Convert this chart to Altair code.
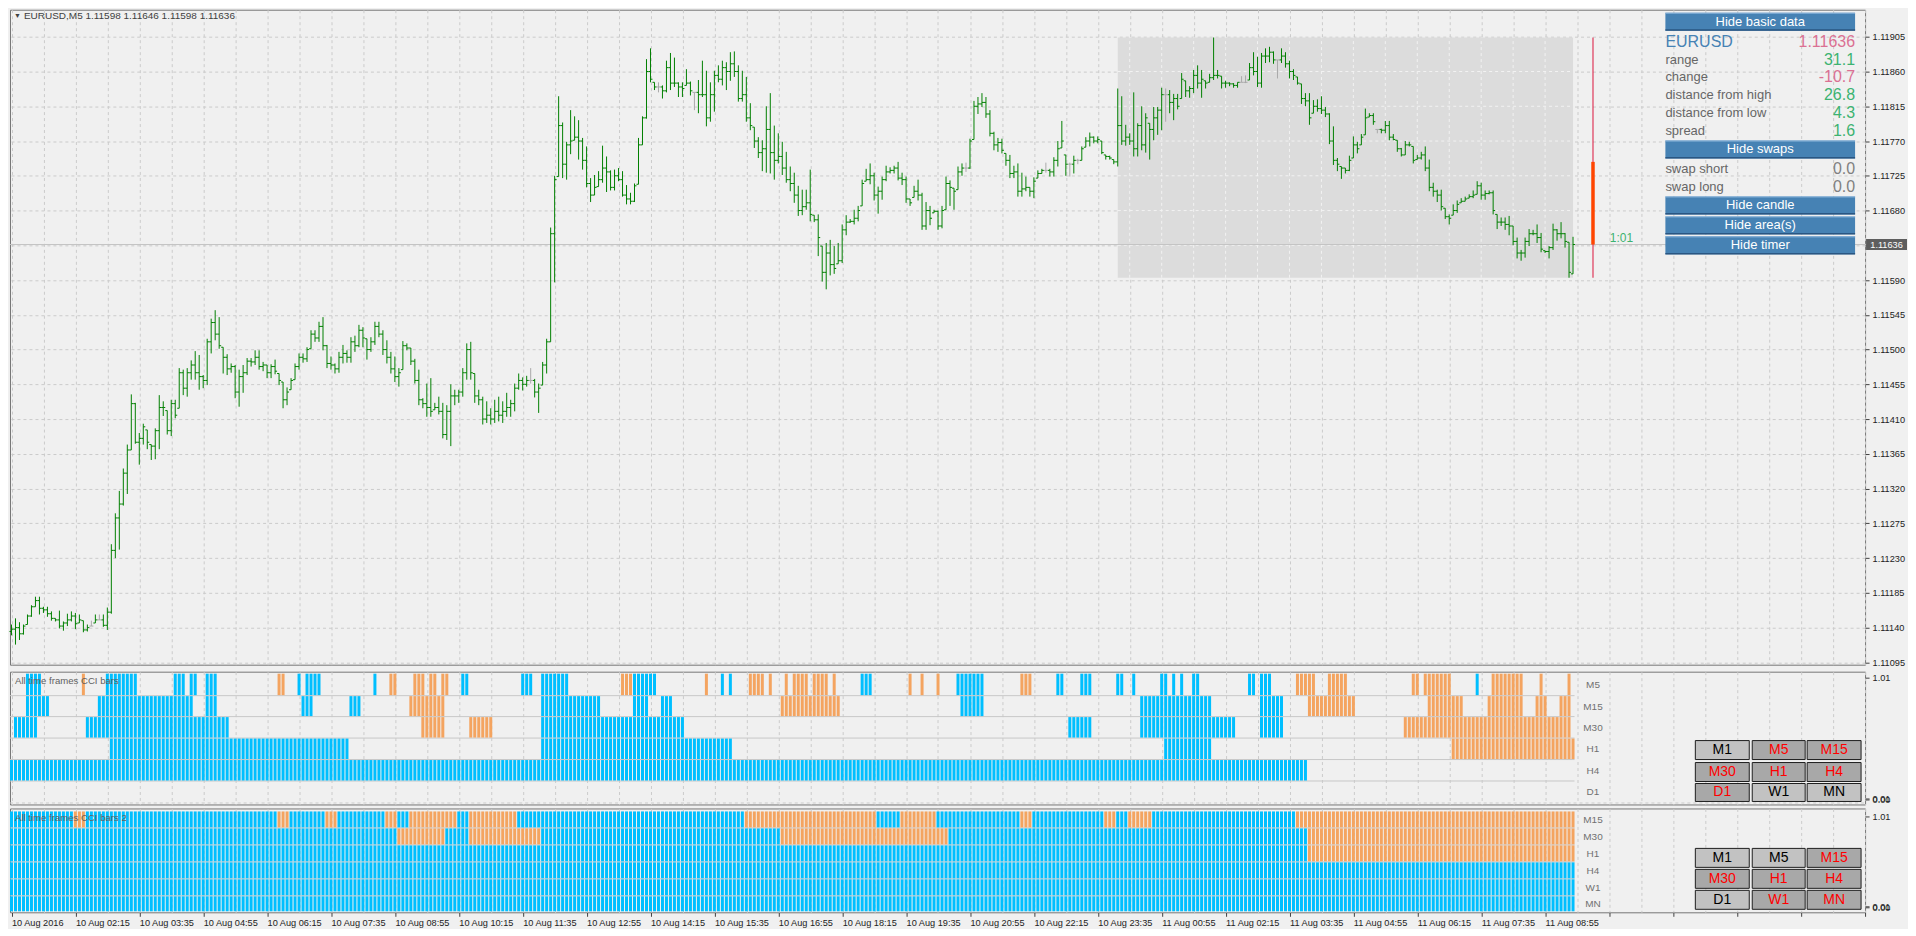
import json
import altair as alt
import pandas as pd

# ---------------- data (prices in points above 1.11000) ----------------
OPEN = [135,138,140,132,144,155,167,175,165,163,
158,152,150,142,146,150,155,146,149,137,
142,146,150,150,143,160,240,282,300,340,
370,430,380,385,396,377,375,395,425,421,
395,430,424,470,450,470,480,470,465,460,
510,535,520,503,490,475,478,445,465,470,
485,484,490,478,480,470,478,469,458,435,
448,461,478,490,488,501,520,515,530,505,
482,480,475,490,495,490,510,505,525,514,
500,510,530,520,500,490,475,465,474,505,
502,485,460,435,430,425,422,425,420,390,
420,440,440,445,470,500,469,440,435,410,
415,410,420,415,420,425,430,450,460,455,
460,460,445,454,480,510,650,724,790,740,
765,771,775,770,745,715,700,711,720,735,
730,710,725,720,700,695,692,714,765,800,
860,846,840,840,835,865,845,845,840,842,
845,833,833,830,830,800,830,855,850,865,
860,870,860,825,830,800,788,770,755,760,
785,755,745,750,735,720,715,700,680,685,
690,674,668,634,600,625,610,611,615,655,
665,666,670,686,718,720,725,700,705,720,
730,732,735,722,720,695,697,705,700,660,
680,677,679,660,681,715,709,707,730,735,
735,772,815,818,820,805,780,765,768,754,
745,728,730,705,708,710,705,722,728,732,
732,730,745,761,752,740,740,745,745,762,
770,775,770,770,752,750,746,743,790,770,
775,770,760,790,765,793,785,800,810,830,
830,820,825,825,848,835,838,855,845,848,
846,852,855,854,845,845,844,842,846,846,
849,865,860,845,880,880,885,875,875,880,
870,860,853,844,825,822,806,815,812,810,
805,770,745,737,735,732,748,765,765,778,
801,803,785,785,784,790,775,771,760,752,
765,763,746,748,752,735,710,705,700,683,
672,674,680,690,692,696,698,701,712,700,
702,703,675,665,665,662,660,640,625,625,
640,650,650,645,628,627,632,655,650,650,
639,598]

HIGH = [144,152,147,144,157,169,180,180,167,167,
161,152,162,148,158,161,159,157,149,144,
149,157,157,157,166,248,288,317,346,377,
442,431,392,404,396,377,398,441,433,421,
435,435,476,474,476,486,498,493,467,514,
540,551,542,503,494,482,480,474,480,489,
489,499,499,484,480,481,487,469,458,451,
463,482,495,495,503,525,525,536,542,506,
491,482,497,506,499,516,518,532,529,514,
516,536,536,525,512,497,491,476,511,508,
502,488,474,437,456,463,431,439,431,428,
455,448,448,476,508,510,469,448,439,433,
424,435,439,433,444,435,456,469,464,466,
476,462,456,484,514,658,725,828,794,769,
810,802,797,774,763,722,726,731,764,750,
732,733,735,731,713,703,715,774,802,876,
890,846,846,842,874,884,878,846,846,863,
847,833,849,874,861,846,861,868,874,872,
885,886,868,861,853,819,788,775,771,815,
832,790,780,769,756,737,729,712,707,707,
733,674,675,634,638,642,634,638,662,674,
669,681,686,720,734,741,729,711,724,738,
736,738,743,729,724,695,712,720,703,691,
686,681,680,686,724,719,709,737,741,742,
773,822,827,832,827,810,782,774,773,754,
752,738,741,729,724,710,723,732,734,742,
734,749,770,796,752,742,751,747,763,775,
781,776,776,770,752,751,746,838,828,791,
780,833,793,815,806,793,814,814,839,838,
836,831,831,858,848,841,862,868,862,848,
857,904,862,854,848,846,845,846,854,855,
871,885,879,884,890,892,886,875,890,885,
874,863,853,844,832,832,823,824,828,814,
806,789,748,737,735,751,776,769,779,812,
806,806,785,786,796,796,779,771,761,770,
769,763,752,756,763,746,716,707,707,683,
675,688,693,696,698,701,706,718,716,706,
706,706,675,671,671,673,660,645,629,645,
656,655,662,651,628,634,663,656,665,651,
639,646]

LOW = [130,118,124,131,144,154,167,157,159,154,
149,148,139,136,142,148,138,146,134,135,
142,146,150,141,137,158,230,241,298,313,
370,378,351,377,371,357,358,371,414,390,
388,411,424,441,439,461,461,448,450,454,
495,512,501,469,467,470,437,426,444,467,
478,480,474,472,463,463,468,454,424,428,
448,461,474,483,484,501,510,510,499,476,
474,469,470,482,483,483,497,503,503,487,
497,506,516,493,482,469,458,452,474,499,
480,456,428,424,413,413,422,416,385,383,
375,428,431,439,461,461,431,428,403,405,
403,405,407,405,413,413,420,448,447,452,
456,438,418,454,469,510,587,724,722,720,
753,771,746,733,710,691,700,711,716,704,
706,706,718,698,688,688,691,714,765,799,
846,836,833,825,833,836,840,827,827,842,
829,810,806,827,789,795,808,846,842,836,
848,853,821,821,795,784,761,748,731,729,
728,720,741,726,716,705,690,673,674,681,
666,665,621,588,578,596,598,611,612,648,
664,662,666,686,718,714,693,676,694,718,
728,728,719,713,690,686,697,693,655,655,
661,677,655,657,681,686,681,707,725,730,
734,772,805,814,800,776,758,756,754,738,
722,722,698,698,705,698,696,722,728,729,
724,724,737,761,725,724,728,740,745,762,
763,767,767,753,746,746,740,737,765,764,
765,750,750,758,755,746,771,778,784,795,
806,797,811,825,827,826,832,838,826,838,
846,849,851,838,839,841,839,839,846,845,
849,855,840,839,871,872,870,851,871,865,
851,849,843,818,815,791,806,808,805,801,
766,739,731,721,728,731,748,754,765,778,
801,791,780,780,780,771,771,756,750,752,
763,741,746,746,731,705,698,691,680,669,
662,674,677,690,692,696,696,701,694,694,
701,675,656,660,655,648,635,618,615,619,
634,648,638,626,625,618,629,641,644,632,
593,598]

CLOSE = [138,140,132,142,155,167,175,165,163,158,
152,150,142,146,150,155,145,150,137,140,
142,150,150,143,160,240,282,300,340,370,
430,380,385,400,380,375,395,425,425,395,
430,415,470,450,470,480,470,465,460,510,
535,520,505,490,475,478,445,465,470,485,
484,490,478,480,470,478,472,460,435,445,
460,478,490,488,500,520,515,530,505,482,
480,475,490,495,490,510,505,525,515,500,
510,530,520,500,490,475,465,470,505,502,
485,460,435,430,425,420,425,420,390,420,
440,440,445,470,500,470,440,435,410,415,
410,420,415,420,425,430,450,460,455,460,
460,445,450,480,510,650,720,790,740,765,
770,775,770,745,715,700,710,720,735,730,
710,725,720,700,695,692,712,765,800,860,
850,840,840,835,865,845,845,840,838,845,
835,833,830,830,800,830,855,850,865,860,
870,860,825,830,800,790,770,755,760,785,
755,745,750,735,720,715,700,680,685,690,
675,668,645,600,625,610,605,615,655,665,
666,670,680,715,720,725,700,705,720,730,
732,735,722,720,695,690,705,700,660,680,
670,679,660,680,715,710,705,730,735,735,
770,815,818,820,805,780,765,768,758,745,
728,730,705,708,710,705,718,728,732,732,
730,745,760,770,740,740,745,745,760,770,
775,770,772,755,750,748,743,790,770,775,
770,760,790,765,800,785,800,810,830,830,
820,825,815,850,835,838,855,845,850,845,
852,855,855,845,845,844,842,846,846,846,
865,860,845,880,880,885,875,875,880,870,
860,855,845,825,822,800,815,812,810,805,
770,745,740,735,732,745,765,760,775,800,
803,795,785,784,790,775,772,760,752,765,
765,745,748,752,735,710,705,700,685,672,
670,680,688,692,695,698,700,712,700,702,
703,680,665,665,662,660,640,625,625,640,
650,650,645,630,627,632,655,650,650,640,
600,636]

DOJI_BARS = [20, 22, 130, 162, 171, 239, 259, 265, 267, 289, 308, 309, 317, 342]

TIME_LABELS = ["10 Aug 2016", "10 Aug 02:15", "10 Aug 03:35", "10 Aug 04:55", "10 Aug 06:15",
               "10 Aug 07:35", "10 Aug 08:55", "10 Aug 10:15", "10 Aug 11:35", "10 Aug 12:55",
               "10 Aug 14:15", "10 Aug 15:35", "10 Aug 16:55", "10 Aug 18:15", "10 Aug 19:35",
               "10 Aug 20:55", "10 Aug 22:15", "10 Aug 23:35", "11 Aug 00:55", "11 Aug 02:15",
               "11 Aug 03:35", "11 Aug 04:55", "11 Aug 06:15", "11 Aug 07:35", "11 Aug 08:55"]
BARS_PER_LABEL = 16

PRICE_TICKS = [95, 140, 185, 230, 275, 320, 365, 410, 455, 500, 545, 590, 635, 680, 725, 770, 815, 860, 905]

DAY_FIRST_BAR = 277
CANDLE_BAR = 396
TIMER_TEXT = "1:01"
SPREAD = 1.6
SWAP_SHORT = 0.0
SWAP_LONG = 0.0

P1_ROWS = ["M5", "M15", "M30", "H1", "H4", "D1"]
P1_SEGMENTS = {
    "M5": [(4,7,"b"),(18,18,"o"),(24,31,"b"),(41,43,"b"),(45,46,"b"),(49,51,"b"),(67,68,"o"),(72,72,"b"),
           (74,77,"b"),(91,91,"b"),(95,96,"o"),(101,103,"o"),(105,106,"o"),(108,109,"o"),(113,114,"b"),
           (128,130,"b"),(133,139,"b"),(153,155,"o"),(156,161,"b"),(174,174,"o"),(178,178,"b"),(180,180,"b"),
           (185,188,"o"),(190,190,"o"),(194,194,"o"),(196,199,"o"),(201,204,"o"),(206,206,"o"),(213,215,"b"),
           (225,225,"o"),(228,228,"o"),(232,232,"o"),(237,243,"b"),(253,255,"o"),(262,263,"b"),(268,270,"b"),
           (277,278,"b"),(281,281,"b"),(288,289,"b"),(291,291,"b"),(293,293,"b"),(296,297,"b"),(310,311,"b"),
           (313,315,"b"),(322,326,"o"),(330,334,"o"),(351,352,"o"),(354,360,"o"),(367,367,"b"),(371,378,"o"),
           (383,383,"o"),(390,390,"o")],
    "M15": [(4,9,"b"),(22,45,"b"),(49,51,"b"),(73,75,"b"),(85,87,"b"),(100,108,"o"),(133,147,"b"),(156,159,"b"),
            (163,165,"b"),(193,207,"o"),(238,243,"b"),(283,300,"b"),(313,318,"b"),(325,336,"o"),(355,363,"o"),
            (370,378,"o"),(382,384,"o"),(388,390,"o")],
    "M30": [(1,6,"b"),(19,54,"b"),(103,108,"o"),(115,120,"o"),(133,168,"b"),(265,270,"b"),(283,306,"b"),
            (313,318,"b"),(349,390,"o")],
    "H1": [(25,84,"b"),(133,180,"b"),(289,300,"b"),(361,391,"o")],
    "H4": [(0,324,"b")],
    "D1": [],
}
P2_ROWS = ["M15", "M30", "H1", "H4", "W1", "MN"]
P2_SEGMENTS = {
    "M15": [(0,15,"b"),(16,18,"o"),(19,66,"b"),(67,69,"o"),(70,78,"b"),(79,81,"o"),(82,93,"b"),(94,96,"o"),
            (97,99,"b"),(100,111,"o"),(112,114,"b"),(115,126,"o"),(127,183,"b"),(184,216,"o"),(217,222,"b"),
            (223,231,"o"),(232,252,"b"),(253,255,"o"),(256,273,"b"),(274,276,"o"),(277,279,"b"),(280,285,"o"),
            (286,321,"b"),(322,391,"o")],
    "M30": [(0,96,"b"),(97,108,"o"),(109,114,"b"),(115,132,"o"),(133,192,"b"),(193,234,"o"),(235,324,"b"),
            (325,391,"o")],
    "H1": [(0,324,"b"),(325,391,"o")],
    "H4": [(0,391,"b")],
    "W1": [(0,391,"b")],
    "MN": [(0,391,"b")],
}
TF_BUTTONS = [["M1", "M5", "M15"], ["M30", "H1", "H4"], ["D1", "W1", "MN"]]
P1_ACTIVE = [[0, 1, 1], [1, 1, 1], [1, 0, 0]]
P2_ACTIVE = [[0, 0, 1], [1, 1, 1], [0, 1, 1]]

# ---------------- layout & style ----------------
W = 1858
KPX = 4.0
X0 = -0.375
X1 = X0 + W / KPX
H_MAIN, H_P1, H_P2 = 656, 133, 104
Y_LO, Y_HI = 92.0, 940.0
PPP = H_MAIN / (Y_HI - Y_LO)

FONT = "Liberation Sans"
BG = "#f0f0f0"
GRID = "#cbcbcb"
BAR_GREEN = "#008000"
DOJI_GRAY = "#a9a9a9"
BLUE = "#00bfff"
ORANGE = "#f4a460"
STEEL = "#4682b4"
PINK = "#db7093"
SEA = "#3cb371"
CCI_COL = {"b": BLUE, "o": ORANGE}


def px_x(px):
    return X0 + px / KPX


def px_main(py):
    return Y_HI - py / PPP


def fmt_price(p):
    return f"{1.11 + p / 100000:.5f}"


N = len(CLOSE)
LAST_BAR = N - 1
last = CLOSE[-1]
day_h = max(HIGH[DAY_FIRST_BAR:])
day_l = min(LOW[DAY_FIRST_BAR:])
day_o = OPEN[DAY_FIRST_BAR]

xs = alt.Scale(domain=[X0, X1], nice=False, zero=False)
ys_main = alt.Scale(domain=[Y_LO, Y_HI], nice=False, zero=False)
GRID_VALS = list(range(0, int(X1) + 1, 8))

ax_x_main = alt.Axis(values=GRID_VALS, grid=True, gridDash=[3, 3], gridColor=GRID, labels=False,
                     ticks=False, domain=False, title=None)
ax_y_main = alt.Axis(orient="right", values=PRICE_TICKS,
                     labelExpr="format(1.11 + datum.value / 100000, '.5f')",
                     grid=True, gridDash=[3, 3], gridColor=GRID, tickSize=4, tickColor="#404040",
                     domain=False, title=None, labelPadding=3, labelOverlap=False)


def X(f, axis=ax_x_main):
    return alt.X(f, type="quantitative", scale=xs, axis=axis)


def Ym(f):
    return alt.Y(f, type="quantitative", scale=ys_main, axis=ax_y_main)


# ---------------- main price panel ----------------
bars = pd.DataFrame({"k": list(range(N)), "o": OPEN, "h": HIGH, "l": LOW, "c": CLOSE})
bars["col"] = [DOJI_GRAY if k in DOJI_BARS else BAR_GREEN for k in bars["k"]]
bars["kl"] = bars["k"] - 0.5
bars["kr"] = bars["k"] + 0.5

day_df = pd.DataFrame({"x0": [DAY_FIRST_BAR], "x1": [LAST_BAR], "y0": [day_l], "y1": [day_h]})
day_rect = alt.Chart(day_df).mark_rect(color="#dcdcdc").encode(x=X("x0"), x2="x1", y=Ym("y0"), y2="y1")

vin = pd.DataFrame({"v": [g for g in GRID_VALS if DAY_FIRST_BAR < g < LAST_BAR]})
vin["y0"], vin["y1"] = day_l, day_h
in_v = alt.Chart(vin).mark_rule(color="#f2f2f2", strokeDash=[3, 3]).encode(x=X("v"), y=Ym("y0"), y2="y1")
hin = pd.DataFrame({"p": [t for t in PRICE_TICKS if day_l < t < day_h]})
hin["x0"], hin["x1"] = DAY_FIRST_BAR, LAST_BAR
in_h = alt.Chart(hin).mark_rule(color="#f2f2f2", strokeDash=[3, 3]).encode(x=X("x0"), x2="x1", y=Ym("p"))

pline = alt.Chart(pd.DataFrame({"p": [last], "x0": [X0], "x1": [X1]})).mark_rule(color="#c4c4c4").encode(
    x=X("x0"), x2="x1", y=Ym("p"))

colr = alt.Color("col:N", scale=None)
hl = alt.Chart(bars).mark_rule(strokeWidth=1).encode(x=X("k"), y=Ym("l"), y2="h", color=colr)
op = alt.Chart(bars).mark_rule(strokeWidth=1).encode(x=X("kl"), x2="k", y=Ym("o"), color=colr)
cl = alt.Chart(bars).mark_rule(strokeWidth=1).encode(x=X("k"), x2="kr", y=Ym("c"), color=colr)

cdf = pd.DataFrame({"k": [CANDLE_BAR], "o": [day_o], "h": [day_h], "l": [day_l], "c": [last]})
wick = alt.Chart(cdf).mark_rule(color="#dc143c", strokeWidth=1).encode(x=X("k"), y=Ym("l"), y2="h")
body = alt.Chart(cdf).mark_rule(color="#ff4500", strokeWidth=3.5).encode(x=X("k"), y=Ym("c"), y2="o")
timer = alt.Chart(pd.DataFrame({"k": [CANDLE_BAR + 4.2], "p": [last + 9], "t": [TIMER_TEXT]})).mark_text(
    font=FONT, fontSize=12, color=SEA, align="left", baseline="middle").encode(x=X("k"), y=Ym("p"), text="t:N")

hdr_txt = f"EURUSD,M5  {fmt_price(OPEN[-1])} {fmt_price(HIGH[-1])} {fmt_price(LOW[-1])} {fmt_price(CLOSE[-1])}"
hdr = alt.Chart(pd.DataFrame({"x": [px_x(14), px_x(4)], "y": [px_main(6), px_main(6)],
                              "t": [hdr_txt, "\u25bc"], "s": [10, 7]})).mark_text(
    font=FONT, color="#404040", align="left", baseline="middle").encode(
    x=X("x"), y=Ym("y"), text="t:N", size=alt.Size("s:Q", scale=None))

# info panel (anchored to the top-right corner)
PANEL_L, PANEL_R = W - 200, W - 10
DY = 10
BTN_PX = [("Hide basic data", 13, 31), ("Hide swaps", 141, 159), ("Hide candle", 197, 215),
          ("Hide area(s)", 217, 235), ("Hide timer", 237, 255)]
btn = pd.DataFrame([{"t": t, "x0": px_x(PANEL_L), "x1": px_x(PANEL_R), "cx": px_x((PANEL_L + PANEL_R) / 2),
                     "y0": px_main(b - DY), "y1": px_main(a - DY), "cy": px_main((a + b) / 2 - DY),
                     "yt": px_main(a - DY + 0.5), "yb": px_main(b - DY - 0.7)} for t, a, b in BTN_PX])
btn_rect = alt.Chart(btn).mark_rect(color=STEEL).encode(x=X("x0"), x2="x1", y=Ym("y0"), y2="y1")
btn_top = alt.Chart(btn).mark_rule(color="#8db6dc", strokeWidth=1).encode(x=X("x0"), x2="x1", y=Ym("yt"))
btn_bot = alt.Chart(btn).mark_rule(color="#2a5682", strokeWidth=1.5).encode(x=X("x0"), x2="x1", y=Ym("yb"))
btn_txt = alt.Chart(btn).mark_text(font=FONT, fontSize=13, color="white", baseline="middle").encode(
    x=X("cx"), y=Ym("cy"), text="t:N")


def signed_color(v):
    return SEA if v >= 0 else PINK


rng = (day_h - day_l) / 10
chg = (last - day_o) / 10
dh = (day_h - last) / 10
dl = (last - day_l) / 10
INFO = [("EURUSD", fmt_price(last), 42.7, STEEL, PINK, 16),
        ("range", f"{rng:.1f}", 60, "#666666", signed_color(rng), 13),
        ("change", f"{chg:.1f}", 77.7, "#666666", signed_color(chg), 13),
        ("distance from high", f"{dh:.1f}", 95.7, "#666666", signed_color(dh), 13),
        ("distance from low", f"{dl:.1f}", 113.3, "#666666", signed_color(dl), 13),
        ("spread", f"{SPREAD:.1f}", 131, "#666666", SEA, 13),
        ("swap short", f"{SWAP_SHORT:.1f}", 170, "#666666", "#808080", 13),
        ("swap long", f"{SWAP_LONG:.1f}", 187.7, "#666666", "#808080", 13)]
info = pd.DataFrame([{"l": l, "v": v, "y": px_main(y - DY), "lc": lc, "vc": vc, "ls": ls,
                      "xl": px_x(PANEL_L), "xr": px_x(PANEL_R)} for l, v, y, lc, vc, ls in INFO])
info_l = alt.Chart(info).mark_text(font=FONT, align="left", baseline="middle").encode(
    x=X("xl"), y=Ym("y"), text="l:N", color=alt.Color("lc:N", scale=None), size=alt.Size("ls:Q", scale=None))
info_v = alt.Chart(info).mark_text(font=FONT, align="right", baseline="middle", fontSize=16).encode(
    x=X("xr"), y=Ym("y"), text="v:N", color=alt.Color("vc:N", scale=None))

# current price marker on the axis
pbox = pd.DataFrame({"x0": [px_x(W + 1)], "x1": [px_x(W + 42)], "cx": [px_x(W + 21.5)],
                     "y0": [last - 5.5 / PPP], "y1": [last + 5.5 / PPP], "p": [last], "t": [fmt_price(last)]})
pbox_r = alt.Chart(pbox).mark_rect(color="#5e5e5e").encode(x=X("x0"), x2="x1", y=Ym("y0"), y2="y1")
pbox_t = alt.Chart(pbox).mark_text(font=FONT, fontSize=9.2, color="white", baseline="middle").encode(
    x=X("cx"), y=Ym("p"), text="t:N")

main = alt.layer(day_rect, in_v, in_h, pline, hl, op, cl, wick, body, timer, hdr,
                 btn_rect, btn_top, btn_bot, btn_txt, info_l, info_v, pbox_r, pbox_t).properties(
    width=W, height=H_MAIN)


# ---------------- CCI panels ----------------
def cci_panel(rows, segs, H, edges, top_px, bot_px, title, title_py, btn_rows, active, xaxis, dashed_bottom):
    span = 1.01 * H / (H - top_px - bot_px)
    hi = 1.01 + top_px * span / H
    lo = -bot_px * span / H

    def yv(py):
        return hi - py * (hi - lo) / H

    ys = alt.Scale(domain=[lo, hi], nice=False, zero=False)
    yax = alt.Axis(orient="right", values=[0, 0.01, 1.01], format=".2f", grid=False, tickSize=4,
                   tickColor="#404040", domain=False, title=None, labelPadding=3, labelOverlap=False)

    def Yp(f):
        return alt.Y(f, type="quantitative", scale=ys, axis=yax)

    recs = []
    for i, name in enumerate(rows):
        for s, e, c in segs[name]:
            for k in range(s, e + 1):
                recs.append({"x0": k - 0.375, "x1": k + 0.375, "y0": yv(edges[i + 1] - 1), "y1": yv(edges[i]),
                             "c": CCI_COL[c]})
    cells = pd.DataFrame(recs)

    sep = pd.DataFrame({"y": [yv(edges[i] - 0.5) for i in range(1, len(rows))]})
    sep["x0"], sep["x1"] = X0, LAST_BAR + 0.375
    layers = [alt.Chart(sep).mark_rule(color="#c8c8c8").encode(x=X("x0", xaxis), x2="x1", y=Yp("y"))]
    if dashed_bottom:
        db = pd.DataFrame({"y": [yv(H - 1.5)], "x0": [X0], "x1": [X1]})
        layers.append(alt.Chart(db).mark_rule(color=GRID, strokeDash=[3, 3]).encode(
            x=X("x0", xaxis), x2="x1", y=Yp("y")))
    layers.append(alt.Chart(cells).mark_rect().encode(
        x=X("x0", xaxis), x2="x1", y=Yp("y0"), y2="y1", color=alt.Color("c:N", scale=None)))

    lab = pd.DataFrame({"t": rows, "k": CANDLE_BAR,
                        "y": [yv((edges[i] + edges[i + 1]) / 2) for i in range(len(rows))]})
    layers.append(alt.Chart(lab).mark_text(font=FONT, fontSize=10, color="#707070", baseline="middle").encode(
        x=X("k", xaxis), y=Yp("y"), text="t:N"))
    ttl = pd.DataFrame({"t": [title], "x": [px_x(5)], "y": [yv(title_py)]})
    layers.append(alt.Chart(ttl).mark_text(font=FONT, fontSize=9.6, color="#606060", align="left",
                                           baseline="middle").encode(x=X("x", xaxis), y=Yp("y"), text="t:N"))

    cols = [(W - 170, W - 116), (W - 113, W - 60), (W - 58, W - 4)]
    brec = []
    for r, (a, b) in enumerate(btn_rows):
        for c, (l, rr) in enumerate(cols):
            on = active[r][c] == 1
            brec.append({"t": TF_BUTTONS[r][c], "x0": px_x(l), "x1": px_x(rr), "cx": px_x((l + rr) / 2),
                         "y0": yv(b), "y1": yv(a), "cy": yv((a + b) / 2),
                         "f": "#a8a8a8" if on else "#c2c2c2", "tc": "#ff0000" if on else "#000000"})
    bdf = pd.DataFrame(brec)
    layers.append(alt.Chart(bdf).mark_rect(stroke="#1e1e1e", strokeWidth=1).encode(
        x=X("x0", xaxis), x2="x1", y=Yp("y0"), y2="y1", fill=alt.Fill("f:N", scale=None)))
    layers.append(alt.Chart(bdf).mark_text(font=FONT, fontSize=14, baseline="middle").encode(
        x=X("cx", xaxis), y=Yp("cy"), text="t:N", color=alt.Color("tc:N", scale=None)))
    return alt.layer(*layers).properties(width=W, height=H)


ax_x_p1 = alt.Axis(values=GRID_VALS, grid=True, gridDash=[3, 3], gridColor=GRID, labels=False,
                   ticks=False, domain=False, title=None)
label_expr = ("datum.value % {n} === 0 && datum.value / {n} < {m} ? {arr}[datum.value / {n}] : ''"
              .format(n=BARS_PER_LABEL, m=len(TIME_LABELS), arr=json.dumps(TIME_LABELS)))
ax_x_p2 = alt.Axis(values=GRID_VALS, grid=True, gridDash=[3, 3], gridColor=GRID, domain=False, title=None,
                   tickSize=4, tickColor="#404040",
                   tickOpacity={"condition": {"test": "datum.value % 16 === 0", "value": 1}, "value": 0},
                   labelExpr=label_expr, labelAlign="left", labelPadding=2, labelFlush=False,
                   labelOverlap=False)

p1 = cci_panel(P1_ROWS, P1_SEGMENTS, H_P1, [2, 24.5, 45.5, 67, 88.5, 110, 131], 6, 5,
               "All time frames CCI bars", 9, [(69, 88), (91, 110), (112, 130)], P1_ACTIVE, ax_x_p1, True)
p2 = cci_panel(P2_ROWS, P2_SEGMENTS, H_P2, [3, 20, 37, 54, 71, 88, 104], 8, 5,
               "All time frames CCI bars 2", 10, [(40, 59), (61, 80), (82, 101)], P2_ACTIVE, ax_x_p2, False)

chart = alt.vconcat(main, p1, p2, spacing=2).properties(padding=0).configure(background=BG).configure_view(
    stroke="#767676", strokeWidth=1).configure_axis(
    labelFont=FONT, labelFontSize=9.2, labelColor="#222222")

chart.save("out.html", embed_options={"renderer": "svg", "actions": False})
